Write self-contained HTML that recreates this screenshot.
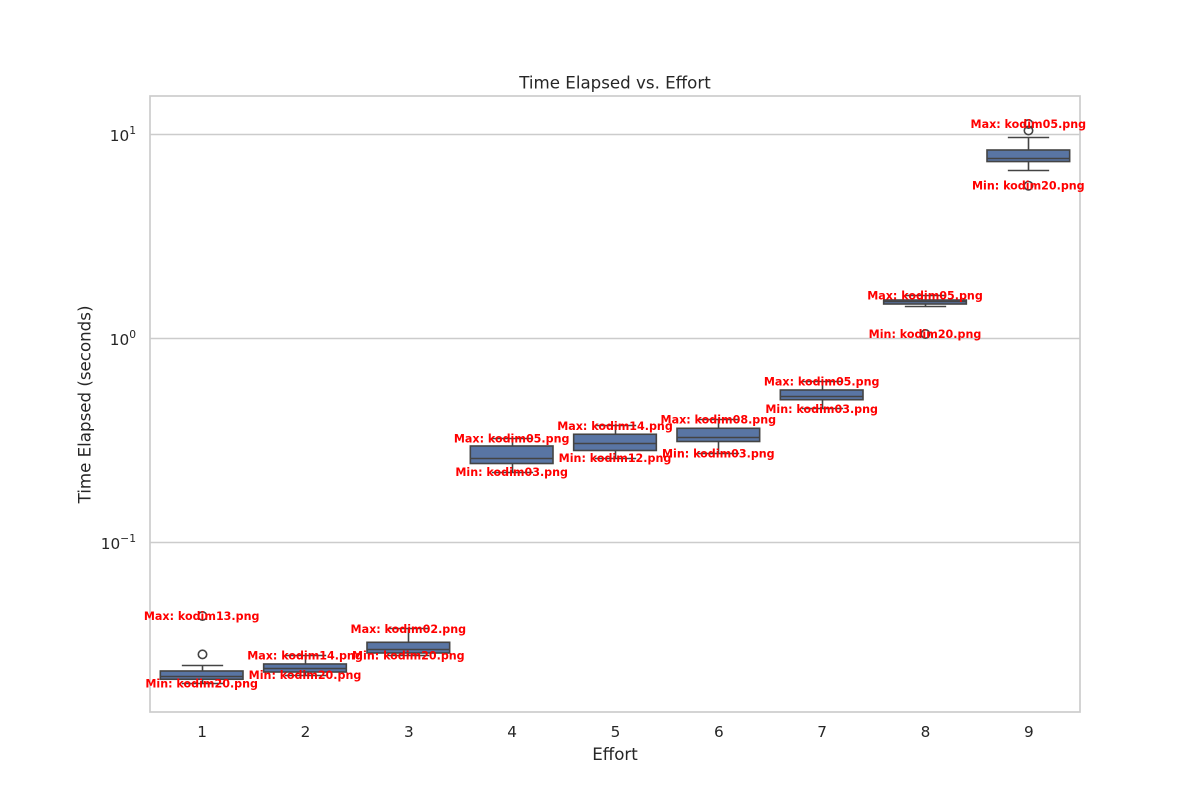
<!DOCTYPE html>
<html lang="en">
<head>
<meta charset="utf-8">
<title>Time Elapsed vs. Effort</title>
<style>
  html, body { margin: 0; padding: 0; background: #ffffff; }
  svg { display: block; font-family: "DejaVu Sans", "Liberation Sans", sans-serif; }
</style>
</head>
<body>
<svg id="chart" width="1200" height="800" viewBox="0 0 1200 800" xmlns="http://www.w3.org/2000/svg">
  <rect x="0" y="0" width="1200" height="800" fill="#ffffff"></rect>
  <g id="grid"></g>
  <g id="marks"></g>
  <rect x="150" y="96" width="930" height="616" fill="none" stroke="#cccccc" stroke-width="1.7"></rect>
  <g id="annotations"></g>
  <g id="xticks"></g>
  <g id="yticks"></g>
  <text x="615" y="88.5" font-size="16.67" text-anchor="middle" fill="#262626">Time Elapsed vs. Effort</text>
  <text x="615" y="760" font-size="16.67" text-anchor="middle" fill="#262626">Effort</text>
  <text x="0" y="0" transform="translate(90.5 404.5) rotate(-90)" font-size="16.67" text-anchor="middle" fill="#262626">Time Elapsed (seconds)</text>
</svg>
<script>
const efforts = [1, 2, 3, 4, 5, 6, 7, 8, 9];
const whiskerHigh = [0.0250, 0.02793, 0.03767, 0.3227, 0.3725, 0.4009, 0.6138, 1.621, 9.69];
const q3Values = [0.02345, 0.02538, 0.03242, 0.2972, 0.3393, 0.3629, 0.5592, 1.544, 8.395];
const medianValues = [0.02204, 0.02417, 0.02972, 0.2587, 0.3065, 0.3279, 0.5208, 1.510, 7.63];
const q1Values = [0.02136, 0.02318, 0.02873, 0.2439, 0.2825, 0.3127, 0.5012, 1.476, 7.37];
const whiskerLow = [0.02036, 0.02241, 0.02787, 0.2209, 0.2587, 0.2730, 0.4513, 1.443, 6.67];
const outliers = [
  [0.04363, 0.02828],
  [],
  [],
  [],
  [],
  [],
  [],
  [1.052],
  [11.26, 10.46, 5.61]
];
const maxFiles = ['kodim13.png', 'kodim14.png', 'kodim02.png', 'kodim05.png', 'kodim14.png', 'kodim08.png', 'kodim05.png', 'kodim05.png', 'kodim05.png'];
const minFiles = ['kodim20.png', 'kodim20.png', 'kodim20.png', 'kodim03.png', 'kodim12.png', 'kodim03.png', 'kodim03.png', 'kodim20.png', 'kodim20.png'];
const yTickExponents = [1, 0, -1];

const SVG_NS = 'http://www.w3.org/2000/svg';
const plot = { left: 150, right: 1080, top: 96, bottom: 712 };
const BOX_WIDTH = 0.8;
const CAP_WIDTH = 0.4;
const LINE_COLOR = '#444444';
const BOX_FILL = '#5975a4';
const STROKE = 1.6;

function xScale(v) {
  return plot.left + (v - 0.5) / 9 * (plot.right - plot.left);
}
function yScale(v) {
  return 338.5 - Math.log10(v) * 204;
}
function snapX(p) {
  return Math.round(p) + 0.5;
}
function snapY(p) {
  return Math.round(p - 0.5) + 0.5;
}
function make(tag, attrs, parent) {
  const el = document.createElementNS(SVG_NS, tag);
  Object.keys(attrs).forEach(function (k) { el.setAttribute(k, attrs[k]); });
  parent.appendChild(el);
  return el;
}
function segment(x1, y1, x2, y2, parent) {
  return make('line', { x1: x1, y1: y1, x2: x2, y2: y2, stroke: LINE_COLOR, 'stroke-width': STROKE }, parent);
}

const gridLayer = document.getElementById('grid');
const marksLayer = document.getElementById('marks');
const annotationLayer = document.getElementById('annotations');
const xTickLayer = document.getElementById('xticks');
const yTickLayer = document.getElementById('yticks');

yTickExponents.forEach(function (exp) {
  const y = snapY(yScale(Math.pow(10, exp)));
  const gridline = make('line', { x1: plot.left, x2: plot.right, y1: y, y2: y, stroke: '#cccccc', 'stroke-width': 1.4 }, gridLayer);
  
  

  const label = make('text', { x: 136, y: y + 6.5, 'font-size': 15.28, 'text-anchor': 'end', fill: '#262626' }, yTickLayer);
  
  
  const base = make('tspan', {}, label);
  base.textContent = '10';
  const power = make('tspan', { dy: -6.8, 'font-size': 10.7 }, label);
  power.textContent = String(exp).replace('-', '\u2212');
});

efforts.forEach(function (effort, i) {
  const cx = xScale(effort);
  const lineX = snapX(cx);
  const half = (xScale(BOX_WIDTH) - xScale(0)) / 2;
  const capHalf = (xScale(CAP_WIDTH) - xScale(0)) / 2;

  const group = make('g', {}, marksLayer);
  
  

  const topY = yScale(q3Values[i]);
  const bottomY = yScale(q1Values[i]);
  const hiY = snapY(yScale(whiskerHigh[i]));
  const loY = snapY(yScale(whiskerLow[i]));

  const upperWhisker = segment(lineX, hiY, lineX, topY, group);
  
  

  const lowerWhisker = segment(lineX, bottomY, lineX, loY, group);
  
  

  const upperCap = segment(lineX - capHalf, hiY, lineX + capHalf, hiY, group);
  
  

  const lowerCap = segment(lineX - capHalf, loY, lineX + capHalf, loY, group);
  
  

  const box = make('rect', {
    x: cx - half, y: topY, width: half * 2, height: bottomY - topY,
    fill: BOX_FILL, stroke: LINE_COLOR, 'stroke-width': STROKE
  }, group);
  
  

  const medianY = snapY(yScale(medianValues[i]));
  const medianLine = segment(cx - half, medianY, cx + half, medianY, group);
  
  

  outliers[i].forEach(function (value) {
    const dot = make('circle', {
      cx: lineX, cy: yScale(value), r: 4.2,
      fill: 'none', stroke: LINE_COLOR, 'stroke-width': STROKE
    }, group);
    
    
  });

  const maxValue = Math.max.apply(null, [whiskerHigh[i]].concat(outliers[i]));
  const minValue = Math.min.apply(null, [whiskerLow[i]].concat(outliers[i]));

  const maxLabel = make('text', {
    x: cx, y: yScale(maxValue) + 3.8, 'font-size': 11.11, 'font-weight': 'bold',
    'text-anchor': 'middle', fill: '#ff0000'
  }, annotationLayer);
  maxLabel.textContent = 'Max: ' + maxFiles[i];
  
  

  const minLabel = make('text', {
    x: cx, y: yScale(minValue) + 3.8, 'font-size': 11.11, 'font-weight': 'bold',
    'text-anchor': 'middle', fill: '#ff0000'
  }, annotationLayer);
  minLabel.textContent = 'Min: ' + minFiles[i];
  
  

  const tick = make('text', {
    x: cx + 0.5, y: 737, 'font-size': 15.28, 'text-anchor': 'middle', fill: '#262626'
  }, xTickLayer);
  tick.textContent = String(effort);
  
  
});
</script>
</body>
</html>
